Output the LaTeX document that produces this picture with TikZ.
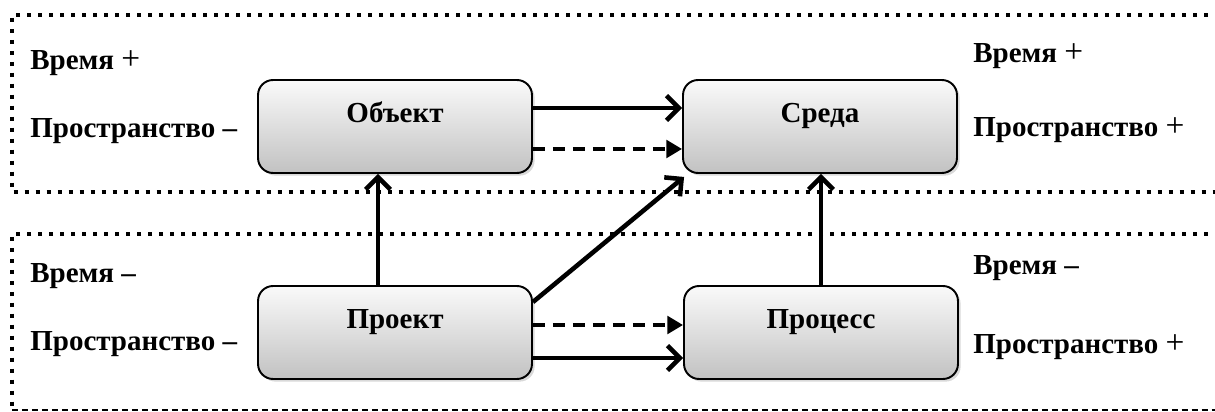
\documentclass[tikz,border=0pt]{standalone}
\usepackage{fontspec}
\setmainfont{Liberation Serif}
\usetikzlibrary{arrows.meta,shadows}
\tikzset{
  block/.style={draw,line width=1.1pt,rounded corners=0.3cm,
    top color=gray!4,bottom color=gray!48,
    minimum width=5.48cm,minimum height=1.86cm,
    text height=0.385cm,text depth=0.53cm,
    font=\bfseries\fontsize{16.5}{19}\selectfont,
    drop shadow={opacity=0.3,shadow xshift=1.5pt,shadow yshift=-1.5pt}},
  tag/.style={anchor=base west,inner sep=0pt,font=\bfseries\fontsize{16.5}{19}\selectfont},
  link/.style={line width=2.6pt,-{Straight Barb[length=7pt,width=14pt]}},
  weak/.style={line width=2.6pt,dash pattern=on 0.24cm off 0.16cm,
    -{Triangle[length=9pt,width=10pt]}},
  frame/.style={line width=0.08cm,dash pattern=on 0.08cm off 0.14cm}
}
\newcommand{\pl}{{\normalfont\fontsize{19}{19}\selectfont +}}

\begin{document}
\begin{tikzpicture}[x=0.02cm,y=-0.02cm]
    \useasboundingbox (0,0) rectangle (1215,412);

    % frames
    \draw[frame] (1230,15) -- (12,15) -- (12,192) -- (1230,192);
    \draw[frame] (1230,234) -- (12,234) -- (12,410);
    \draw[line width=1pt,dash pattern=on 0.12cm off 0.08cm] (12,410) -- (1230,410);

    % blocks
    \node[block] (obj) at (395,126.5) {Объект};
    \node[block] (sreda) at (820,126.5) {Среда};
    \node[block] (proekt) at (395,332.5) {Проект};
    \node[block] (process) at (821,332.5) {Процесс};

    % labels
    \node[tag] (t1) at (30,70) {Время \pl};
    \node[tag] (t2) at (30,138) {Пространство –};
    \node[tag] (t3) at (973,63) {Время \pl};
    \node[tag] (t4) at (973,137) {Пространство \pl};
    \node[tag] (t5) at (30,282) {Время –};
    \node[tag] (t6) at (30,350) {Пространство –};
    \node[tag] (t7) at (973,275) {Время –};
    \node[tag] (t8) at (973,353) {Пространство \pl};

    % arrows
    \draw[link] ([yshift=0.37cm]obj.east) -- ([yshift=0.37cm]sreda.west);
    \draw[weak] ([yshift=-0.45cm]obj.east) -- ([yshift=-0.45cm]sreda.west);
    \draw[link] ([xshift=-0.34cm]proekt.north) -- ([xshift=-0.34cm]obj.south);
    \draw[link] ([yshift=-0.34cm]proekt.north east) -- ([xshift=0.04cm,yshift=-0.06cm]sreda.south west);
    \draw[weak] ([yshift=0.15cm]proekt.east) -- ([yshift=0.15cm]process.west);
    \draw[link] ([yshift=-0.51cm]proekt.east) -- ([yshift=-0.51cm]process.west);
    \draw[link] (process.north) -- (process.north |- sreda.south);
\end{tikzpicture}
\end{document}
